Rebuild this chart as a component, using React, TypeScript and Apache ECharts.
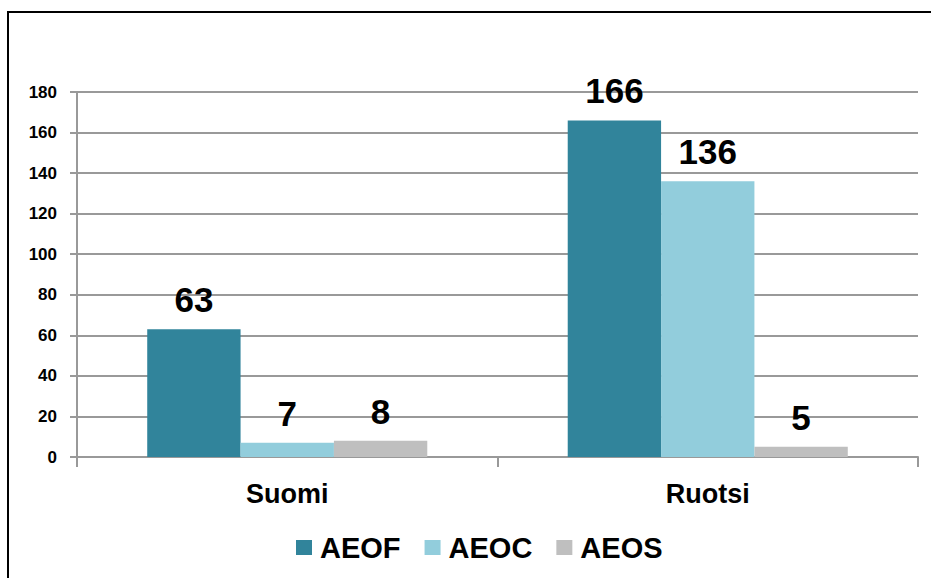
import React, { useEffect, useRef } from "react";
import * as echarts from "echarts";

const categories = ["Suomi", "Ruotsi"];
const seriesNames = ["AEOF", "AEOC", "AEOS"];
const aeof = [63, 166];
const aeoc = [7, 136];
const aeos = [8, 5];
const colors = ["#31849B", "#92CDDC", "#BFBFBF"];

const FONT = "'Liberation Sans', Arial, sans-serif";

export default function App() {
  const ref = useRef<HTMLDivElement>(null);
  useEffect(() => {
    if (!ref.current) return;
    const chart = echarts.init(ref.current, null, { renderer: "svg" });
    const data = [aeof, aeoc, aeos];
    chart.setOption({
      animation: false,
      backgroundColor: "#ffffff",
      textStyle: { fontFamily: FONT },
      graphic: [
        {
          type: "rect",
          shape: { x: 8, y: 12, width: 1000, height: 1000 },
          style: { fill: "none", stroke: "#000", lineWidth: 2 },
          z: 100,
        },
      ],
      grid: { left: 77, right: 13, top: 92, bottom: 121, containLabel: false },
      legend: {
        data: seriesNames,
        left: 291,
        top: 528,
        itemWidth: 16,
        itemHeight: 15,
        itemGap: 24,
        icon: "rect",
        textStyle: {
          fontFamily: FONT,
          fontSize: 29,
          fontWeight: "bold",
          color: "#000",
          padding: [0, 0, 0, 3],
        },
      },
      xAxis: {
        type: "category",
        data: categories,
        boundaryGap: true,
        axisLine: { lineStyle: { color: "#999", width: 2 } },
        axisTick: { show: true, length: 10, interval: 0, lineStyle: { color: "#999", width: 2 } },
        axisLabel: {
          fontFamily: FONT,
          fontSize: 27,
          fontWeight: "bold",
          color: "#000",
          margin: 23,
        },
      },
      yAxis: {
        type: "value",
        min: 0,
        max: 180,
        interval: 20,
        axisLine: { show: true, lineStyle: { color: "#999", width: 2 } },
        axisTick: { show: true, length: 7, lineStyle: { color: "#999", width: 2 } },
        splitLine: { lineStyle: { color: "#999", width: 2 } },
        axisLabel: {
          fontFamily: FONT,
          fontSize: 17,
          fontWeight: "bold",
          color: "#000",
          margin: 20,
        },
      },
      series: seriesNames.map((name, i) => ({
        name,
        type: "bar",
        data: data[i],
        barGap: "0%",
        barCategoryGap: "33.4%",
        itemStyle: { color: colors[i] },
        label: {
          show: true,
          position: "top",
          distance: 12,
          fontFamily: FONT,
          fontSize: 35,
          fontWeight: "bold",
          color: "#000",
        },
      })),
    });
    return () => chart.dispose();
  }, []);
  return (
    <div
      ref={ref}
      style={{ position: "fixed", left: 0, top: 0, width: 931, height: 578 }}
    />
  );
}
